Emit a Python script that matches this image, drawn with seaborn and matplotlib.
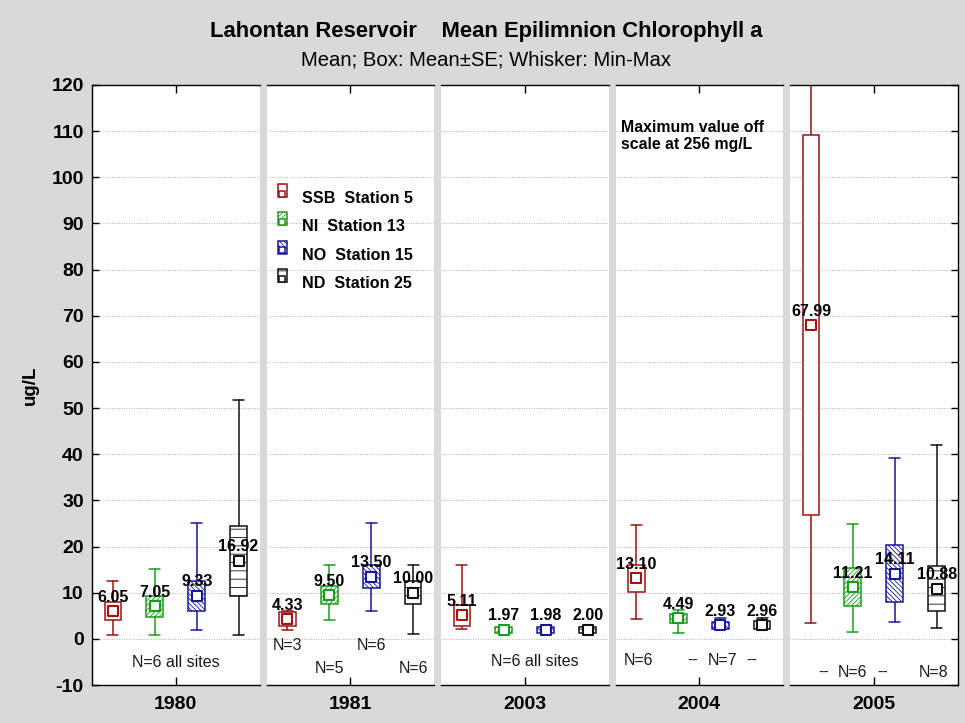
import numpy as np
import matplotlib
matplotlib.use("Agg")
import matplotlib.pyplot as plt
import seaborn as sns
from matplotlib.patches import Patch
from matplotlib.lines import Line2D
from matplotlib.legend_handler import HandlerTuple

# ---------------- data ----------------
years = ["1980", "1981", "2003", "2004", "2005"]
stations = ["SSB  Station 5", "NI  Station 13", "NO  Station 15", "ND  Station 25"]

ssb_mean = [6.05, 4.33, 5.11, 13.10, 67.99]
ssb_se = [1.9, 1.45, 2.25, 3.0, 41.1]
ssb_min = [0.9, 2.0, 2.2, 4.2, 3.4]
ssb_max = [12.5, 6.0, 16.0, 24.7, 256.0]

ni_mean = [7.05, 9.50, 1.97, 4.49, 11.21]
ni_se = [2.25, 1.9, 0.65, 0.95, 4.1]
ni_min = [0.9, 4.0, 1.5, 1.3, 1.4]
ni_max = [15.1, 16.0, 2.5, 6.2, 24.8]

no_mean = [9.33, 13.50, 1.98, 2.93, 14.11]
no_se = [3.2, 2.4, 0.65, 0.8, 6.15]
no_min = [2.0, 6.0, 1.5, 2.1, 3.6]
no_max = [25.1, 25.1, 2.5, 4.5, 39.2]

nd_mean = [16.92, 10.00, 2.00, 2.96, 10.88]
nd_se = [7.6, 2.45, 0.65, 0.8, 4.9]
nd_min = [0.9, 1.0, 1.5, 2.1, 2.4]
nd_max = [51.7, 16.0, 2.5, 4.6, 42.0]

n_texts = [
    ["N=6 all sites"],
    ["N=3", "N=5", "N=6", "N=6"],
    ["N=6 all sites"],
    ["N=6", "--", "N=7", "--"],
    ["--", "N=6", "--", "N=8"],
]

title = "Lahontan Reservoir    Mean Epilimnion Chlorophyll a"
subtitle = "Mean; Box: Mean\u00b1SE; Whisker: Min-Max"
note = "Maximum value off\nscale at 256 mg/L"
ylabel = "ug/L"

# ---------------- layout / style ----------------
means = [ssb_mean, ni_mean, no_mean, nd_mean]
ses = [ssb_se, ni_se, no_se, nd_se]
mins = [ssb_min, ni_min, no_min, nd_min]
maxs = [ssb_max, ni_max, no_max, nd_max]

colors = ["#9c1414", "#1c9c1c", "#16169c", "#111111"]
hatches = [None, "///////", "\\\\\\\\\\\\\\", "--"]
positions = [0.5, 1.5, 2.5, 3.5]

n_pos = [
    [(2.0, -5.2)],
    [(0.5, -1.5), (1.5, -6.5), (2.5, -1.5), (3.5, -6.5)],
    [(2.25, -5.0)],
    [(0.56, -4.6), (1.85, -4.6), (2.56, -4.6), (3.26, -4.6)],
    [(0.81, -7.3), (1.5, -7.3), (2.22, -7.3), (3.44, -7.3)],
]

sns.set_theme(style="white")
plt.rcParams["font.family"] = ["Liberation Sans", "DejaVu Sans"]
plt.rcParams["hatch.linewidth"] = 0.6
plt.rcParams["axes.unicode_minus"] = False
for key in ["text.color", "axes.labelcolor", "xtick.color", "ytick.color"]:
    plt.rcParams[key] = "black"


class ShiftedTuple(HandlerTuple):
    def create_artists(self, legend, orig_handle, xdescent, ydescent, width,
                       height, fontsize, trans):
        return super().create_artists(legend, orig_handle, xdescent,
                                      ydescent - 5, width, height, fontsize, trans)


BG = "#d9d9d9"
fig, axes = plt.subplots(1, 5, figsize=(9.65, 7.23), dpi=100, sharey=True)
fig.patch.set_facecolor(BG)
fig.subplots_adjust(left=92 / 965, right=957.5 / 965, top=1 - 85 / 723,
                    bottom=1 - 685 / 723, wspace=7 / 167.5)

for yi, (ax, year) in enumerate(zip(axes, years)):
    ax.set_facecolor("white")
    ax.set_xlim(0, 4)
    ax.set_ylim(-10, 120)
    ax.set_yticks(np.arange(-10, 121, 10))
    ax.yaxis.grid(True, linestyle=(0, (1, 1.5)), color="#b0b0b0", linewidth=0.7)
    ax.xaxis.grid(False)
    ax.set_axisbelow(True)

    for si in range(4):
        m = means[si][yi]
        se = ses[si][yi]
        c = colors[si]
        stats = [dict(med=m, q1=m - se, q3=m + se, whislo=mins[si][yi],
                      whishi=maxs[si][yi], fliers=[])]
        bp = ax.bxp(stats, positions=[positions[si]], widths=0.4, capwidths=0.26,
                    patch_artist=True, showfliers=False, manage_ticks=False,
                    boxprops=dict(facecolor="white", edgecolor=c, linewidth=1.1),
                    whiskerprops=dict(color=c, linewidth=1.1),
                    capprops=dict(color=c, linewidth=1.1),
                    medianprops=dict(linewidth=0))
        for b in bp["boxes"]:
            if hatches[si]:
                b.set_hatch(hatches[si])
            try:
                b.set_hatchcolor(c)
            except AttributeError:
                pass
            b.set_zorder(3)
        sns.scatterplot(x=[positions[si]], y=[m], ax=ax, marker="s", s=55,
                        color="white", edgecolor=c, linewidth=1.5, zorder=5,
                        legend=False)
        ax.text(positions[si], m + 3.0, f"{m:.2f}", ha="center", va="center",
                fontweight="bold", fontsize=11.5, color="black", zorder=6)

    for txt, (px, py) in zip(n_texts[yi], n_pos[yi]):
        ax.text(px, py, txt, ha="center", va="center", fontsize=11.5, color="#1a1a1a")

    ax.set_xticks([2])
    ax.set_xticklabels([year], fontweight="bold", fontsize=14)
    ax.tick_params(axis="x", direction="in", top=True, bottom=True, length=6,
                   width=1, color="black", pad=8)
    ax.tick_params(axis="y", direction="in", left=(yi == 0), right=(yi == 4),
                   labelleft=(yi == 0), labelright=False, length=5, width=1,
                   color="black", labelsize=14, pad=6)
    if yi == 0:
        for lab in ax.get_yticklabels():
            lab.set_fontweight("bold")
    ax.set_xlabel("")
    ax.set_ylabel("")
    for side in ["top", "bottom", "left", "right"]:
        ax.spines[side].set_color("black")
        ax.spines[side].set_linewidth(1.0)
    ax.spines["left"].set_visible(yi == 0)
    ax.spines["right"].set_visible(yi == 4)

axes[3].text(0.13, 108.9, note, ha="left", va="center", fontweight="bold",
             fontsize=11.4, linespacing=1.2)

handles = []
for si in range(4):
    p = Patch(facecolor="white", edgecolor=colors[si], hatch=hatches[si], linewidth=1.1)
    mk = Line2D([], [], marker="s", markersize=4.5, markerfacecolor="white",
                markeredgecolor=colors[si], markeredgewidth=1.1, linestyle="none")
    handles.append((p, mk))
fig.legend(handles, stations, handler_map={tuple: ShiftedTuple(ndivide=1)},
           loc="upper left", bbox_to_anchor=(270 / 965, 1 - 183 / 723),
           bbox_transform=fig.transFigure, frameon=False,
           prop={"weight": "bold", "size": 11.6}, handlelength=0.55,
           handleheight=0.85, handletextpad=0.95, labelspacing=0.83, borderpad=0)

fig.text(486 / 965, 1 - 31 / 723, title, ha="center", va="center",
         fontweight="bold", fontsize=15.8)
fig.text(486 / 965, 1 - 60 / 723, subtitle, ha="center", va="center", fontsize=14.6)
fig.text(30 / 965, 1 - 385 / 723, ylabel, rotation=90, ha="center", va="center",
         fontweight="bold", fontsize=13.5)

fig.savefig("out.png", dpi=100, facecolor=BG)
